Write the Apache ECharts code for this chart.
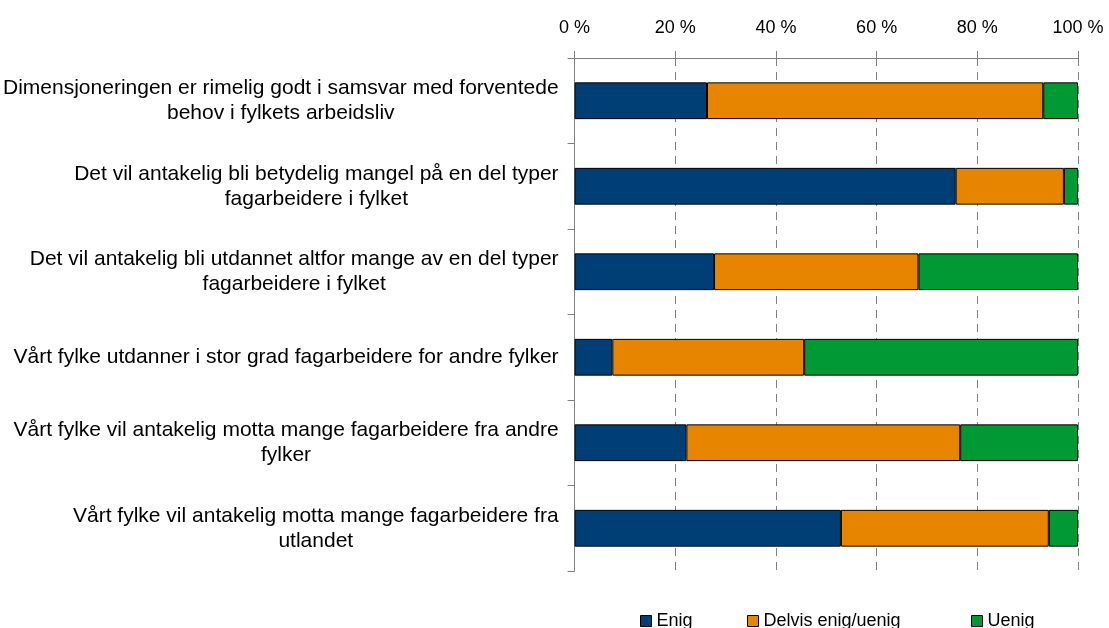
<!DOCTYPE html>
<html>
<head>
<meta charset="utf-8">
<script src="https://cdn.jsdelivr.net/npm/echarts@6/dist/echarts.min.js"></script>
<style>
  html, body { margin: 0; padding: 0; background: #fff; }
  #main { width: 1109px; height: 628px; }
</style>
</head>
<body>
<div id="main"></div>
<script>
// categories, top to bottom as in the picture
var categories = [
  'Dimensjoneringen er rimelig godt i samsvar med forventede\nbehov i fylkets arbeidsliv',
  'Det vil antakelig bli betydelig mangel på en del typer\nfagarbeidere i fylket',
  'Det vil antakelig bli utdannet altfor mange av en del typer\nfagarbeidere i fylket',
  'Vårt fylke utdanner i stor grad fagarbeidere for andre fylker',
  'Vårt fylke vil antakelig motta mange fagarbeidere fra andre\nfylker',
  'Vårt fylke vil antakelig motta mange fagarbeidere fra\nutlandet'
];
var enig   = [26.3, 75.7, 27.7, 7.5, 22.2, 52.9];
var delvis = [66.8, 21.5, 40.6, 38.1, 54.4, 41.3];
var uenig  = [6.9, 2.8, 31.7, 54.4, 23.4, 5.8];
var seriesNames = ['Enig', 'Delvis enig/uenig', 'Uenig'];
var colors = ['#003f75', '#e88500', '#009933'];
var legendLeft = [640, 747, 971];

var chart = echarts.init(document.getElementById('main'));

function makeSeries(name, data, color) {
  return {
    name: name,
    type: 'bar',
    stack: 'total',
    data: data,
    barWidth: '43%',
    itemStyle: { color: color, borderColor: '#000', borderWidth: 1 },
    emphasis: { disabled: true }
  };
}

// one legend block per item so the gaps follow the picture
var legends = seriesNames.map(function (n, i) {
  return {
    top: 612,
    left: legendLeft[i],
    padding: 0,
    itemWidth: 11,
    itemHeight: 11,
    icon: 'rect',
    selectedMode: false,
    textStyle: { fontSize: 18, color: '#000' },
    data: [{ name: n, itemStyle: { color: colors[i], borderColor: '#000', borderWidth: 1 } }]
  };
});

chart.setOption({
  animation: false,
  textStyle: { fontFamily: 'Liberation Sans, Arial, sans-serif' },
  grid: { left: 574, right: 31, top: 58, bottom: 57, containLabel: false },
  legend: legends,
  xAxis: {
    type: 'value',
    position: 'top',
    min: 0,
    max: 100,
    interval: 20,
    axisLine: { show: true, lineStyle: { color: '#808080' } },
    axisTick: { show: true, length: 7, lineStyle: { color: '#808080' } },
    axisLabel: { formatter: '{value} %', fontSize: 18, color: '#000', margin: 21 },
    splitLine: { show: true, lineStyle: { color: '#808080', type: [8, 6] } }
  },
  yAxis: {
    type: 'category',
    inverse: true,
    data: categories,
    axisLine: { show: true, lineStyle: { color: '#808080' } },
    axisTick: { show: true, length: 7, lineStyle: { color: '#808080' } },
    axisLabel: {
      margin: 16,
      color: '#000',
      fontSize: 21,
      lineHeight: 25,
      formatter: function (v) {
        return v.split('\n').map(function (l) { return '{c|' + l + '}'; }).join('\n');
      },
      rich: { c: { align: 'center', fontSize: 21, lineHeight: 25, color: '#000' } }
    }
  },
  series: [
    makeSeries(seriesNames[0], enig, colors[0]),
    makeSeries(seriesNames[1], delvis, colors[1]),
    makeSeries(seriesNames[2], uenig, colors[2])
  ]
});
</script>
</body>
</html>
